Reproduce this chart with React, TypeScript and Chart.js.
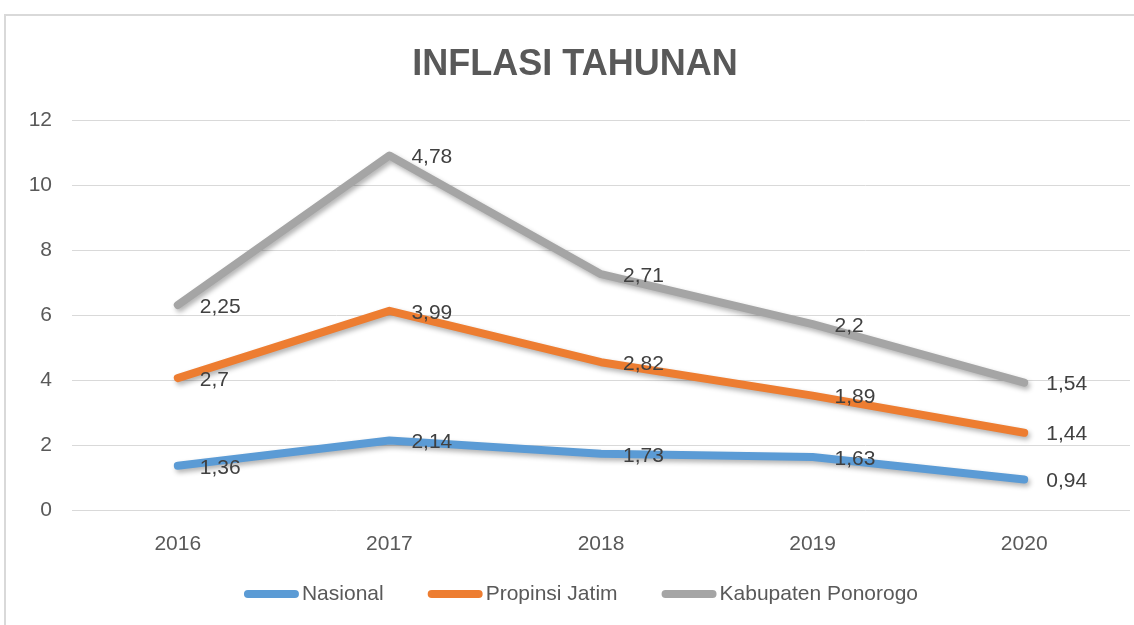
import React, { useEffect, useRef } from "react";
import { Chart, registerables } from "chart.js";

Chart.register(...registerables);

const years = ["2016", "2017", "2018", "2019", "2020"];
const nasional = [1.36, 2.14, 1.73, 1.63, 0.94];
const propinsiJatim = [2.7, 3.99, 2.82, 1.89, 1.44];
const kabPonorogo = [2.25, 4.78, 2.71, 2.2, 1.54];
const seriesNames = ["Nasional", "Propinsi Jatim", "Kabupaten Ponorogo"];
const seriesColors = ["#5B9BD5", "#ED7D31", "#A5A5A5"];
const chartTitle = "INFLASI TAHUNAN";
const yMin = 0;
const yMax = 12;
const yStep = 2;

const FONT = "'Liberation Sans', Arial, sans-serif";
const fmt = (v: number) => String(v).replace(".", ",");

const shadowPlugin = {
  id: "lineShadow",
  beforeDatasetDraw(chart: any) {
    const ctx = chart.ctx;
    ctx.save();
    ctx.shadowColor = "rgba(0,0,0,0.3)";
    ctx.shadowBlur = 5;
    ctx.shadowOffsetX = 2;
    ctx.shadowOffsetY = 3;
  },
  afterDatasetDraw(chart: any) {
    chart.ctx.restore();
  },
};

const valueLabelPlugin = {
  id: "valueLabels",
  afterDatasetsDraw(chart: any) {
    const ctx = chart.ctx;
    ctx.save();
    ctx.font = `21px ${FONT}`;
    ctx.fillStyle = "#404040";
    ctx.textAlign = "left";
    ctx.textBaseline = "middle";
    chart.data.datasets.forEach((ds: any, i: number) => {
      const meta = chart.getDatasetMeta(i);
      meta.data.forEach((pt: any, j: number) => {
        ctx.fillText(fmt(ds.data[j]), pt.x + 22, pt.y + 2);
      });
    });
    ctx.restore();
  },
};

const lineLegendPlugin = {
  id: "lineLegend",
  afterDraw(chart: any) {
    const ctx = chart.ctx;
    ctx.save();
    ctx.font = `21px ${FONT}`;
    ctx.textBaseline = "middle";
    ctx.textAlign = "left";
    const lineW = 55;
    const gap = 3;
    const itemGap = 44;
    const items = chart.data.datasets.map((ds: any) => ({
      label: ds.label,
      color: ds.borderColor,
      w: ctx.measureText(ds.label).width,
    }));
    const total =
      items.reduce((s: number, it: any) => s + lineW + gap + it.w, 0) +
      itemGap * (items.length - 1);
    const cx = (chart.chartArea.left + chart.chartArea.right) / 2 - 20;
    const y = chart.height - 31;
    let x = cx - total / 2;
    items.forEach((it: any) => {
      ctx.strokeStyle = it.color;
      ctx.lineWidth = 8;
      ctx.lineCap = "round";
      ctx.beginPath();
      ctx.moveTo(x + 4, y);
      ctx.lineTo(x + lineW - 4, y);
      ctx.stroke();
      ctx.fillStyle = "#595959";
      ctx.fillText(it.label, x + lineW + gap, y);
      x += lineW + gap + it.w + itemGap;
    });
    ctx.restore();
  },
};

export default function App() {
  const canvasRef = useRef<HTMLCanvasElement | null>(null);

  useEffect(() => {
    if (!canvasRef.current) return;
    const seriesData = [nasional, propinsiJatim, kabPonorogo];
    const chart = new Chart(canvasRef.current, {
      type: "line",
      data: {
        labels: years,
        datasets: seriesData.map((d, i) => ({
          label: seriesNames[i],
          data: d,
          borderColor: seriesColors[i],
          backgroundColor: seriesColors[i],
          borderWidth: 8,
          pointRadius: 0,
          pointHoverRadius: 0,
          tension: 0,
          fill: false,
          borderCapStyle: "round",
          borderJoinStyle: "round",
        })),
      },
      options: {
        responsive: false,
        animation: false,
        layout: { padding: { left: 20, right: 4, top: 0, bottom: 55 } },
        plugins: {
          legend: { display: false },
          tooltip: { enabled: false },
          title: {
            display: true,
            text: chartTitle,
            color: "#595959",
            font: { family: FONT, size: 36, weight: "bold" },
            padding: { top: 43, bottom: 34 },
          },
        },
        scales: {
          x: {
            offset: true,
            grid: { display: false, drawTicks: false },
            border: { display: false },
            ticks: {
              color: "#595959",
              font: { family: FONT, size: 21 },
              padding: 22,
            },
            afterFit: (scale: any) => {
              scale.height = 60;
            },
          },
          y: {
            stacked: true,
            min: yMin,
            max: yMax,
            grid: { color: "#D9D9D9", lineWidth: 1, drawTicks: false },
            border: { display: false },
            ticks: {
              stepSize: yStep,
              color: "#595959",
              font: { family: FONT, size: 21 },
              padding: 20,
            },
            afterFit: (scale: any) => {
              scale.width = 52;
            },
          },
        },
      },
      plugins: [shadowPlugin, valueLabelPlugin, lineLegendPlugin],
    });
    return () => chart.destroy();
  }, []);

  return (
    <div
      style={{
        position: "fixed",
        left: 0,
        top: 0,
        width: 1134,
        height: 625,
        background: "#fff",
        overflow: "hidden",
      }}
    >
      <div
        style={{
          position: "absolute",
          left: 4,
          top: 14,
          width: 1150,
          height: 640,
          border: "2px solid #D9D9D9",
          boxSizing: "border-box",
        }}
      />
      <canvas
        ref={canvasRef}
        width={1134}
        height={625}
        style={{ position: "absolute", left: 0, top: 0, width: 1134, height: 625 }}
      />
    </div>
  );
}
